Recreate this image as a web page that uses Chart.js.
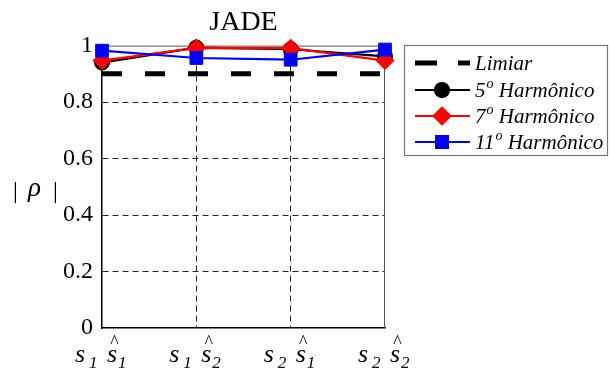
<!DOCTYPE html>
<html>
<head>
<meta charset="utf-8">
<title>JADE</title>
<script src="https://cdn.jsdelivr.net/npm/chart.js@4.4.1/dist/chart.umd.min.js"></script>
<style>
  html, body { margin: 0; padding: 0; background: #fff; }
  canvas { display: block; }
</style>
</head>
<body>
<canvas id="chart" width="610" height="374"></canvas>
<script>
// x categories: s_i vs estimated s_j
var srcIdx = [1, 1, 2, 2];
var estIdx = [1, 2, 1, 2];
var categories = ['s1 ŝ1', 's1 ŝ2', 's2 ŝ1', 's2 ŝ2'];

// |rho| values
var limiar = [0.9, 0.9, 0.9, 0.9];
var harm5 = [0.940, 0.993, 0.987, 0.962];
var harm7 = [0.947, 0.992, 0.991, 0.947];
var harm11 = [0.982, 0.956, 0.950, 0.986];

var yTicks = [0, 0.2, 0.4, 0.6, 0.8, 1];

var SERIF = "'Liberation Serif', 'Times New Roman', serif";

// draws a marker, falls back to plain paths if helpers are missing
function marker(ctx, style, r, x, y) {
    if (Chart.helpers && Chart.helpers.drawPoint) {
        Chart.helpers.drawPoint(ctx, { pointStyle: style, radius: r, rotation: 0, borderWidth: 1 }, x, y);
        return;
    }
    ctx.beginPath();
    if (style === 'circle') ctx.arc(x, y, r, 0, Math.PI * 2);
    else if (style === 'rectRot') { ctx.moveTo(x, y - r); ctx.lineTo(x + r, y); ctx.lineTo(x, y + r); ctx.lineTo(x - r, y); ctx.closePath(); }
    else { var s = r * Math.SQRT1_2; ctx.rect(x - s, y - s, 2 * s, 2 * s); }
    ctx.fill();
    ctx.stroke();
}

// label with a raised "o" for the ordinal sign
function ordinalText(ctx, text, x, y) {
    var parts = text.split('º');
    ctx.font = 'italic 21px ' + SERIF;
    ctx.fillText(parts[0], x, y);
    x += ctx.measureText(parts[0]).width;
    if (parts.length > 1) {
        ctx.font = 'italic 14px ' + SERIF;
        ctx.fillText('o', x + 1, y - 7);
        x += ctx.measureText('o').width + 1;
        ctx.font = 'italic 21px ' + SERIF;
        ctx.fillText(parts[1], x, y);
    }
}

var decorations = {
    id: 'decorations',
    beforeDatasetsDraw: function(chart) {
        var ctx = chart.ctx, a = chart.chartArea;
        // axes box
        ctx.save();
        ctx.strokeStyle = '#555';
        ctx.lineWidth = 1;
        ctx.beginPath();
        ctx.moveTo(a.left, a.top + 0.5);
        ctx.lineTo(a.right - 0.5, a.top + 0.5);
        ctx.lineTo(a.right - 0.5, a.bottom);
        ctx.stroke();
        ctx.restore();
    },
    afterDraw: function(chart) {
        var ctx = chart.ctx, a = chart.chartArea;
        var xs = chart.scales.x;
        ctx.save();
        ctx.fillStyle = '#000';
        ctx.textBaseline = 'alphabetic';
        ctx.textAlign = 'left';

        // x tick labels: s_i  ŝ_j
        categories.forEach(function(c, i) {
            var cx = xs.getPixelForValue(i);
            var base = a.bottom + 34;
            ctx.font = 'italic 26px ' + SERIF;
            ctx.fillText('s', cx - 27, base);
            ctx.fillText('s', cx + 5, base);
            ctx.font = 'italic 17px ' + SERIF;
            ctx.fillText(String(srcIdx[i]), cx - 13, base + 6);
            ctx.fillText(String(estIdx[i]), cx + 16, base + 6);
            ctx.font = '18px ' + SERIF;
            ctx.textAlign = 'center';
            ctx.fillText('^', cx + 12.5, base - 14);
            ctx.textAlign = 'left';
        });

        // y axis title | rho |
        var my = (a.top + a.bottom) / 2 + 11;
        ctx.font = '24px ' + SERIF;
        ctx.fillText('|', 13, my);
        ctx.fillText('|', 53, my);
        ctx.font = 'italic 27px ' + SERIF;
        ctx.fillText('ρ', 28, my - 2);

        // legend
        var lx = 404.5, ly = 45.5, lw = 203, lh = 110;
        ctx.fillStyle = '#fff';
        ctx.fillRect(lx, ly, lw, lh);
        ctx.strokeStyle = '#777';
        ctx.lineWidth = 1.2;
        ctx.strokeRect(lx, ly, lw, lh);
        var rows = [63, 90, 116, 142];
        chart.data.datasets.forEach(function(ds, i) {
            var y = rows[i];
            ctx.save();
            ctx.strokeStyle = ds.borderColor;
            ctx.lineWidth = ds.borderWidth;
            ctx.setLineDash(ds.borderDash ? [22, 21] : []);
            ctx.beginPath();
            ctx.moveTo(415, y);
            ctx.lineTo(470, y);
            ctx.stroke();
            ctx.restore();
            if (ds.pointRadius > 0) {
                ctx.save();
                ctx.fillStyle = ds.pointBackgroundColor;
                ctx.strokeStyle = ds.borderColor;
                marker(ctx, ds.pointStyle, ds.pointRadius, 442, y);
                ctx.restore();
            }
            ctx.fillStyle = '#000';
            ctx.textBaseline = 'middle';
            ordinalText(ctx, ds.label, 475, y + 1);
        });
        ctx.restore();
    }
};

new Chart(document.getElementById('chart'), {
    type: 'line',
    data: {
        labels: categories,
        datasets: [{
            label: 'Limiar',
            data: limiar,
            borderColor: '#000',
            borderWidth: 5,
            borderDash: [20, 23],
            pointRadius: 0,
            order: 4
        }, {
            label: '5º Harmônico',
            data: harm5,
            borderColor: '#000',
            backgroundColor: '#000',
            pointBackgroundColor: '#000',
            borderWidth: 2.2,
            pointStyle: 'circle',
            pointRadius: 7.5,
            order: 3
        }, {
            label: '7º Harmônico',
            data: harm7,
            borderColor: '#ff0000',
            backgroundColor: '#ff0000',
            pointBackgroundColor: '#ff0000',
            borderWidth: 2.2,
            pointStyle: 'rectRot',
            pointRadius: 9,
            order: 2
        }, {
            label: '11º Harmônico',
            data: harm11,
            borderColor: '#0000ff',
            backgroundColor: '#0000ff',
            pointBackgroundColor: '#0000ff',
            borderWidth: 2.2,
            pointStyle: 'rect',
            pointRadius: 9,
            order: 1
        }]
    },
    options: {
        responsive: false,
        devicePixelRatio: 1,
        animation: false,
        layout: { padding: { left: 0, right: 225, top: 0, bottom: 0 } },
        elements: { line: { tension: 0, fill: false }, point: { pointBorderWidth: 1 } },
        datasets: { line: { clip: false } },
        plugins: {
            legend: { display: false },
            tooltip: { enabled: false },
            title: {
                display: true,
                text: 'JADE',
                fullSize: false,
                color: '#000',
                font: { family: SERIF, size: 28, weight: 'normal' },
                padding: { top: 6, bottom: 6 }
            }
        },
        scales: {
            x: {
                type: 'category',
                offset: false,
                ticks: { display: false },
                grid: {
                    drawTicks: false,
                    lineWidth: 1,
                    color: function(c) {
                        return (c.index === 0 || c.index === categories.length - 1) ? 'rgba(0,0,0,0)' : '#222';
                    }
                },
                border: { display: true, color: '#000', width: 1.5, dash: [6, 4] },
                afterFit: function(s) { s.height = 46; }
            },
            y: {
                min: 0,
                max: 1,
                afterBuildTicks: function(s) {
                    s.ticks = yTicks.map(function(v) { return { value: v }; });
                },
                ticks: {
                    color: '#000',
                    padding: 9,
                    font: { family: SERIF, size: 24 },
                    callback: function(v) { return String(v); }
                },
                grid: {
                    drawTicks: false,
                    lineWidth: 1,
                    color: function(c) {
                        var v = c.tick ? c.tick.value : 0;
                        return (v === 0 || v === 1) ? 'rgba(0,0,0,0)' : '#222';
                    }
                },
                border: { display: true, color: '#000', width: 1.5, dash: [6, 4] },
                afterFit: function(s) { s.width = 102; }
            }
        }
    },
    plugins: [decorations]
});
</script>
</body>
</html>
